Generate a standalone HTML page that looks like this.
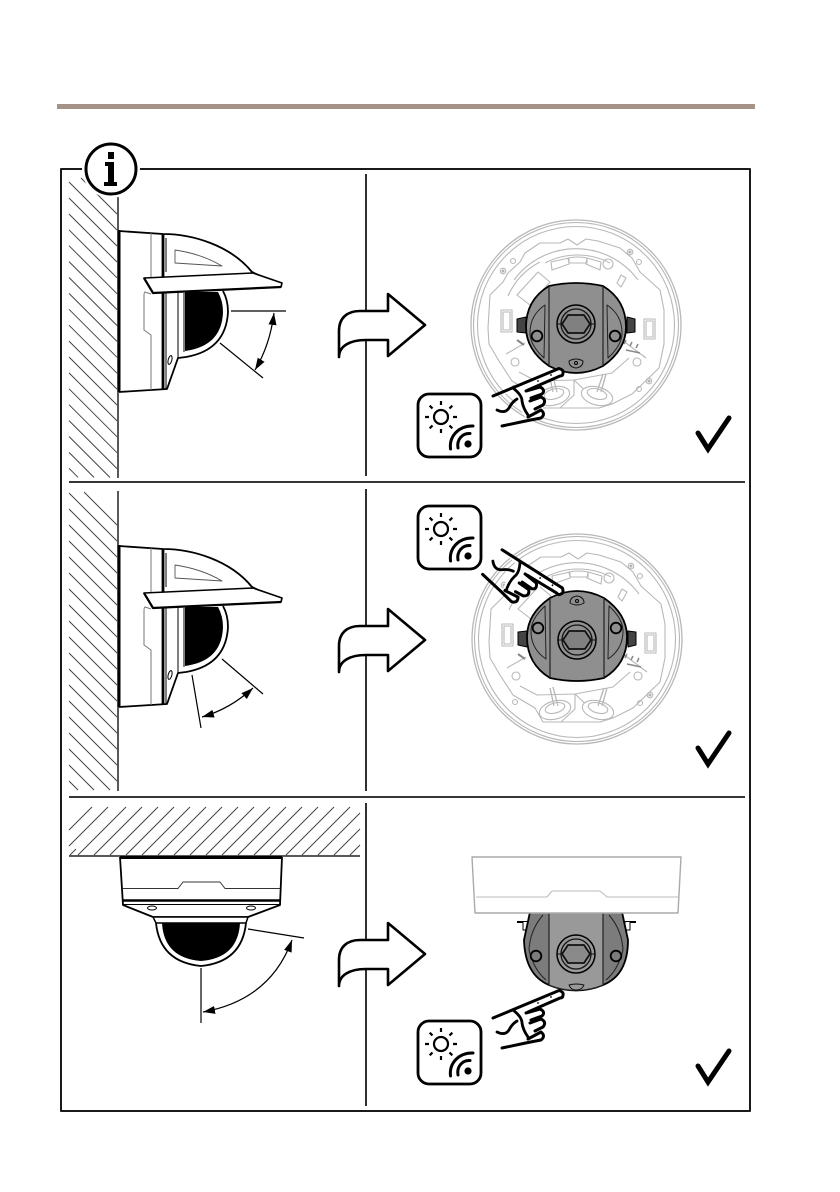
<!DOCTYPE html>
<html><head><meta charset="utf-8"><style>html,body{margin:0;padding:0;background:#fff}svg{display:block}</style></head><body>
<svg width="840" height="1192" viewBox="0 0 840 1192" xmlns="http://www.w3.org/2000/svg" fill="none" stroke-linejoin="round">
<defs>
<marker id="ah" viewBox="0 0 12 8" refX="12" refY="4" markerWidth="12" markerHeight="8" markerUnits="userSpaceOnUse" orient="auto-start-reverse"><path d="M0 0L12 4L0 8Z" fill="#000"/></marker>
<g id="arrow"><path d="M339 357V331C339 318 347 311 360 311H388V294L425 325L388 356V340H366C350 340 339 346 339 357Z" fill="#fff" stroke="#000" stroke-width="2.6"/></g>
<path id="check" d="M698 433L708 449L729 418" stroke="#000" stroke-width="5" stroke-linecap="round" stroke-linejoin="miter"/>
<g id="icon">
<rect x="418" y="394" width="63" height="63" rx="11" fill="#fff" stroke="#000" stroke-width="2.8"/>
<circle cx="441" cy="417" r="7" stroke="#000" stroke-width="2.200"/>
<path d="M441 401v4M441 429v4M425 417h4M453 417h4M429.700 405.700l2.800 2.800M449.500 425.500l2.800 2.800M429.700 428.300l2.800-2.800M449.500 408.500l2.800-2.800" stroke="#000" stroke-width="2.200"/>
<circle cx="468" cy="444" r="3.600" fill="#000"/>
<path d="M458 448C456.500 440 462 433 470 433.500M450.500 449C449 436 459 425.500 473 426" stroke="#000" stroke-width="3" stroke-linecap="round"/>
</g>
<g id="hand" stroke="#000" stroke-linecap="round">
<path d="M513 388L560 368Q565 370 563 374L545 385L543 405L543 418L528 421L517 405L512 395Z" fill="#fff" stroke="none"/>
<path d="M493 396L559 368.500Q564 370 563 373Q563 376 560 376L528 390" stroke-width="3" fill="#fff"/>
<path d="M526 391L540 387Q546 390 542 394L531 398M530 401L541 397Q547 400 543 405L535 409M528 417L541 410Q546 414 541 418L528 420.500M502 426L528 420.500" stroke-width="3"/>
<path d="M513 388Q522 395 522 401Q523 408 528 415M497 410Q505 414 509 408Q512 402 517 399" stroke-width="2.800"/>
<circle cx="538" cy="381" r=".9" fill="#000" stroke="none"/><circle cx="551" cy="375" r=".9" fill="#000" stroke="none"/>
</g>
<g id="plate" stroke="#b8b8b8" stroke-width="1.100">
<circle cx="576" cy="325" r="105" fill="#fff" stroke-width="1.300"/>
<circle cx="576" cy="325" r="102.500"/>
<circle cx="576" cy="325" r="98.500"/>
<path d="M577 245L568 239L560 243L540 243L525 253L520 262L508 273L503 282L490 295L488 328L489 344L499 361L512 381L534 394L542 408L572 408L599 408L612 404L632 394L659 368L664 344L664 310L660 290L640 272L632 258L620 248L598 241L586 239L577 245"/>
<path d="M514 280A77 77 0 0 1 638 280M508 296A70 70 0 0 1 540 262"/>
<path d="M545 263A70 70 0 0 1 610 263"/>
<path d="M538 272L550 282L530 305L517 295Z"/>
<path d="M506 354L525 343M622 340L646 358M519 372L536 381L574 380L612 373L629 358M574 380V395L560 408M574 380L590 395L612 404"/>
<rect x="501" y="310" width="11" height="22" fill="#fff"/><rect x="503" y="312" width="7" height="18"/>
<rect x="644" y="319" width="11" height="20" fill="#fff"/><rect x="646" y="321" width="7" height="16"/>
<path d="M551 262L569 258V264L552 270ZM587 258L601 262L600 270L586 264ZM568 258Q578 256 587 258V263H569Z"/>
<circle cx="608" cy="264" r="5"/><circle cx="630" cy="252" r="2.800"/><circle cx="630" cy="252" r="1" fill="#999"/>
<circle cx="503" cy="271" r="2.800"/><circle cx="503" cy="271" r="1" fill="#999"/>
<circle cx="649" cy="381" r="2.800"/><circle cx="649" cy="381" r="1" fill="#999"/>
<circle cx="513" cy="261" r="2.500"/><circle cx="639" cy="262" r="2.500"/><circle cx="639" cy="389" r="2.500"/><circle cx="514" cy="388" r="2.500"/>
<circle cx="515" cy="362" r="4"/><circle cx="637" cy="362" r="4"/>
<path d="M624 344L626 340M630 346L632 342M636 348L638 344M626 350L640 353" stroke="#888" stroke-width="1.500"/>
<path d="M517 340L524 345" stroke="#888" stroke-width="2"/>
<path d="M549 374L553 392M552 373L557 392M603 374L597 392M606 374L601 392" stroke-width="1.200"/>
<ellipse cx="597" cy="396" rx="16" ry="9" transform="rotate(15 597 396)" fill="#fff"/><ellipse cx="597" cy="394" rx="10" ry="5" transform="rotate(15 597 394)"/>
<ellipse cx="554" cy="396" rx="16" ry="9" transform="rotate(-15 554 396)" fill="#fff"/><ellipse cx="554" cy="394" rx="10" ry="5" transform="rotate(-15 554 394)"/>
<path d="M549 374L553 392M552 373L557 392M603 374L597 392M606 374L601 392" stroke-width="1.200"/>
<path d="M626 278L621 287L617 283L621 275Z"/>
</g>
<g id="device">
<path d="M517 319L526 317V333L517 332ZM635 319L627 317V333L635 332Z" fill="#444" stroke="#000"/>
<path d="M549 286Q576 280 603 286Q626 300 626 327Q626 350 603 366Q576 380 549 366Q526 350 526 327Q526 300 549 286Z" fill="#8f8f8f" stroke="#000" stroke-width="1.800"/>
<path d="M549 286V366M603 286V366" stroke="#222" stroke-width="1.200"/>
<path d="M545 305Q530 315 530 333Q530 345 544 358ZM607 305Q622 315 622 333Q622 345 608 358Z" stroke="#222" stroke-width="1"/>
<circle cx="537" cy="336" r="5.300" stroke="#000" stroke-width="1.800"/><circle cx="615" cy="336" r="5.300" stroke="#000" stroke-width="1.800"/>
<circle cx="576" cy="324" r="19" stroke="#000" stroke-width="1.500"/>
<circle cx="576" cy="324" r="15" stroke="#111" stroke-width="1.300"/>
<path d="M568 315H584L590 324L584 333H568L562 324Z" stroke="#111" stroke-width="1.800" fill="#808080"/>
<path d="M557 324H562M590 324H595" stroke="#111"/>
<path d="M569 361Q576 357 583 361Q583 367 576 368Q569 367 569 361Z" stroke="#111"/>
<circle cx="576" cy="363" r="1.500" stroke="#000"/>
</g>
<g id="cam">
<path d="M119 231L163 234C192 234 230 245 252 272L273 282H282L281 287L175 292L187 293H225L228 312Q226 350 187 357L178 358L167 389L119 392Z" fill="#fff"/>
<path d="M119 231L163 234C192 234 230 245 252 272L273 282" stroke="#000" stroke-width="1.800"/>
<path d="M119 230V392" stroke="#000" stroke-width="3"/>
<path d="M119 392L167 389L178 358L186 357Q226 350 228 312Q228 300 223 291" stroke="#000" stroke-width="1.800"/>
<path d="M185 351Q222 346 223 312Q223 301 218 292H185Z" fill="#000"/>
<path d="M163 234V389" stroke="#000" stroke-width="2.800"/>
<path d="M166 238V272M166 293V389M178 293V358M184 293V352" stroke="#000" stroke-width="1"/>
<path d="M151 233V278M151 294L145 292Q144 292 144 296V330L151 335V390" stroke="#777" stroke-width="1"/>
<path d="M175 250Q202 254 222 266L175 263Z" stroke="#555" stroke-width=".9"/>
<path d="M144 278L253 273L282 283L281 287L153 293Z" fill="#fff" stroke="#000" stroke-width="1.600"/>
<path d="M144 278L153 293L281 287" stroke="#000" stroke-width="2.200"/>
<ellipse cx="170" cy="360" rx="1.800" ry="4.500" transform="rotate(15 170 360)" stroke="#000" stroke-width="1"/>
</g>
</defs>

<rect x="57" y="104" width="698" height="5" fill="#a49386"/>
<rect x="61" y="169" width="689" height="942" fill="#fff" stroke="#1a1a1a" stroke-width="2"/>

<!-- dividers -->
<path d="M366 174V476M366 489V791M366 803V1106M69 482H745M69 797H745" stroke="#1a1a1a" stroke-width="1.800"/>

<!-- hatches -->
<g stroke="#444" stroke-width="1">
<path d="M81 178L117 214M69 182L117 230M69 198L117 246M69 214L117 262M69 229.800L117 277.800M69 245.700L117 293.700M69 261.600L117 309.600M69 277.500L117 325.500M69 293.400L117 341.400M69 309.300L117 357.300M69 325.200L117 373.200M69 341.100L117 389.100M69 357L117 405M69 372.900L117 420.900M69 388.800L117 436.800M69 404.700L117 452.700M69 420.600L117 468.600M69 436.500L110 477.500M69 452.400L94 477.400M69 468.300L78 477.300"/>
<path d="M84 492L117 525M69 493L117 541M69 509L117 557M69 525L117 573M69 541L117 589M69 557L117 605M69 573L117 621M69 589L117 637M69 605L117 653M69 621L117 669M69 637L117 685M69 653L117 701M69 669L117 717M69 685L117 733M69 701L117 749M69 717L117 765M69 733L117 781M69 749L110 790M69 765L94 790M69 781L78 790"/>
<path d="M69 830L92 807M78 855L126 807M94 855L142 807M110 855L158 807M126 855L174 807M142 855L190 807M158 855L206 807M174 855L222 807M190 855L238 807M206 855L254 807M222 855L270 807M238 855L286 807M254 855L302 807M270 855L318 807M286 855L334 807M302 855L350 807M318 855L360 813M334 855L360 829M350 855L360 845M69 846L108 807M70 855L76 849"/>
</g>
<path d="M118 197V478M118 491V791M69 856H360" stroke="#222" stroke-width="1.500"/>

<!-- info icon -->
<circle cx="111" cy="169" r="29" fill="#fff"/>
<circle cx="111" cy="169" r="25" fill="#fff" stroke="#000" stroke-width="3"/>
<path d="M108 152H114V159H108ZM105 162H114V182H117V186H104V182H108V166H105Z" fill="#000"/>

<!-- Panel 1 -->
<use href="#cam"/>
<path d="M231 311H286M220 343L263 378" stroke="#000" stroke-width="1.200"/>
<path d="M274 313Q270 345 255 370" stroke="#000" stroke-width="1.200" marker-start="url(#ah)" marker-end="url(#ah)"/>
<use href="#arrow"/>
<use href="#plate"/><use href="#device"/>
<use href="#icon"/><use href="#hand"/><use href="#check"/>

<!-- Panel 2 -->
<use href="#cam" y="315"/>
<path d="M222 659L263 694M192 675L201 728" stroke="#000" stroke-width="1.200"/>
<path d="M253 688Q230 709 202 717" stroke="#000" stroke-width="1.200" marker-start="url(#ah)" marker-end="url(#ah)"/>
<use href="#arrow" y="315"/>
<use href="#plate" x="1" y="314"/>
<use href="#device" transform="translate(577 639) scale(1 -1) translate(-576 -325)"/>
<use href="#icon" y="112"/>
<g transform="translate(563 595) rotate(55) translate(-565 -372)"><use href="#hand"/></g>
<use href="#check" y="315"/>

<!-- Panel 3 camera -->
<path d="M120 857H282L280 903L280 905L248 917L246 923Q238 962 201 966Q164 962 156 923L153 917L123 905Z" fill="#fff"/>
<path d="M120 857L123 905L153 917H248L280 905L282 857" stroke="#000" stroke-width="1.800"/>
<path d="M120 857.500H282" stroke="#000" stroke-width="3"/>
<path d="M123 900.500H280" stroke="#000" stroke-width="2.400"/>
<path d="M123 904.500H280" stroke="#000" stroke-width=".9"/>
<path d="M123 888.500H178L183 882H220L225 888.500H280" stroke="#333" stroke-width="1"/>
<ellipse cx="152" cy="908" rx="4.500" ry="2" stroke="#000"/><ellipse cx="251" cy="908" rx="4.500" ry="2" stroke="#000"/>
<path d="M153 917H248L246 923H156Z" stroke="#000" stroke-width="1.500" fill="#fff"/>
<path d="M156 923Q160 962 201 966Q242 962 246 923" stroke="#000" stroke-width="1.800"/>
<path d="M162 923H240Q238 958 201 961Q164 958 162 923Z" fill="#000"/>
<path d="M201 968V1023M248 929L304 938" stroke="#000" stroke-width="1.200"/>
<path d="M292 940Q270 1000 203 1012" stroke="#000" stroke-width="1.200" marker-start="url(#ah)" marker-end="url(#ah)"/>
<use href="#arrow" y="629"/>

<!-- Panel 3 device -->
<path d="M517 922H528M625 922H636" stroke="#000" stroke-width="2"/>
<path d="M523 922V930H528V922M630 922V930H625V922" stroke="#000" fill="#fff"/>
<path d="M530 912L524 940Q525 975 549 985Q576 996 603 985Q628 975 628 940L622 912Z" fill="#7c7c7c" stroke="#000" stroke-width="1.800"/>
<path d="M549 912V985Q576 996 603 985V912Z" fill="#999" stroke="#222" stroke-width="1.200"/>
<path d="M543 915Q530 930 529 950Q534 970 546 980M609 915Q622 930 623 950Q618 970 606 980" stroke="#222"/>
<circle cx="536" cy="956" r="5.300" fill="#7c7c7c" stroke="#000" stroke-width="1.800"/><circle cx="616" cy="956" r="5.300" fill="#7c7c7c" stroke="#000" stroke-width="1.800"/>
<circle cx="576" cy="954" r="19" stroke="#000" stroke-width="1.500"/>
<circle cx="576" cy="954" r="15" stroke="#111" stroke-width="1.300"/>
<path d="M568 945H584L590 954L584 963H568L562 954Z" stroke="#111" stroke-width="1.800" fill="#8a8a8a"/>
<path d="M557 954H562M590 954H595" stroke="#111"/>
<path d="M569 985Q576 983 584 985Q582 990 576 990Q571 990 569 985Z" stroke="#111"/>
<path d="M472 857H681L678 913H475Z" fill="#fff" stroke="#aaa" stroke-width="1.400"/>
<path d="M476 897H547L552 891H600L607 897H678" stroke="#bbb" stroke-width="1"/>
<use href="#hand" y="622"/>
<use href="#icon" y="627"/>
<use href="#check" y="633"/>
</svg>
</body></html>
